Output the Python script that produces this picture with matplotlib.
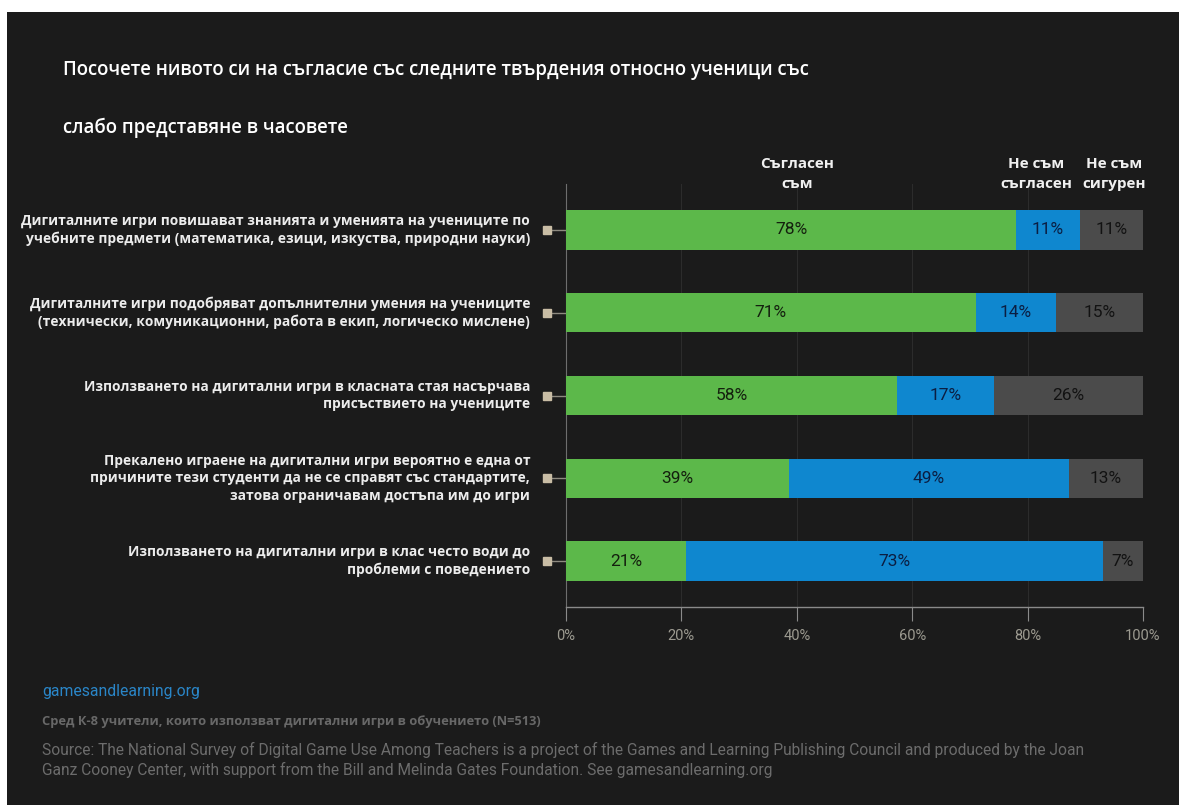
"""Stacked horizontal bars: teacher agreement with statements (Bulgarian)."""
import matplotlib
matplotlib.use("Agg")
import matplotlib.pyplot as plt
from matplotlib.patches import Rectangle
import numpy as np

# ---------------------------------------------------------------------------
# Data
# ---------------------------------------------------------------------------
statements = [
    "Дигиталните игри повишават знанията и уменията на учениците по\n"
    "учебните предмети (математика, езици, изкуства, природни науки)",
    "Дигиталните игри подобряват допълнителни умения на учениците\n"
    "(технически, комуникационни, работа в екип, логическо мислене)",
    "Използването на дигитални игри в класната стая насърчава\n"
    "присъствието на учениците",
    "Прекалено играене на дигитални игри вероятно е една от\n"
    "причините тези студенти да не се справят със стандартите,\n"
    "затова ограничавам достъпа им до игри",
    "Използването на дигитални игри в клас често води до\n"
    "проблеми с поведението",
]
series_names = ["Съгласен\nсъм", "Не съм\nсъгласен", "Не съм\nсигурен"]
agree = [78, 71, 58, 39, 21]
disagree = [11, 14, 17, 49, 73]
unsure = [11, 15, 26, 13, 7]
xticks = [0, 20, 40, 60, 80, 100]
xticklabels = ["0%", "20%", "40%", "60%", "80%", "100%"]

title = ("Посочете нивото си на съгласие със следните твърдения относно ученици със\n\n"
         "слабо представяне в часовете")
site = "gamesandlearning.org"
note = "Сред К-8 учители, които използват дигитални игри в обучението (N=513)"
source = ("Source: The National Survey of Digital Game Use Among Teachers is a project of "
          "the Games and Learning Publishing Council and produced by the Joan\n"
          "Ganz Cooney Center, with support from the Bill and Melinda Gates Foundation. "
          "See gamesandlearning.org")

# ---------------------------------------------------------------------------
# Style
# ---------------------------------------------------------------------------
BG = "#1b1b1b"
COLORS = ["#5cb84a", "#0f87cf", "#4b4b4b"]
TEXT_IN = ["#14200e", "#0b1e42", "#121212"]
HEADER_X = [40, 81.5, 95]
NUM_FONT = ["Roboto", "DejaVu Sans"]

plt.rcParams["font.family"] = ["Open Sans", "DejaVu Sans"]

W, H = 1179, 805
fig = plt.figure(figsize=(W / 100, H / 100), dpi=100)
fig.patch.set_facecolor("white")
fig.add_artist(Rectangle((7 / W, 0), 1 - 7 / W, 1 - 12 / H,
                         transform=fig.transFigure, facecolor=BG,
                         edgecolor="none", zorder=-10))

ax = fig.add_axes([566 / W, 1 - 607 / H, (1143 - 566) / W, (607 - 184) / H])
ax.set_facecolor("none")

vals = np.array([agree, disagree, unsure], dtype=float)
shares = vals / vals.sum(axis=0) * 100
y = np.arange(len(statements))
left = np.zeros(len(statements))
for k in range(3):
    ax.barh(y, shares[k], left=left, height=0.48, color=COLORS[k], zorder=3)
    for i in range(len(statements)):
        ax.text(left[i] + shares[k][i] / 2, y[i], f"{int(vals[k][i])}%",
                ha="center", va="center", fontsize=12.5, color=TEXT_IN[k],
                family=NUM_FONT, zorder=4)
    left += shares[k]

for k, name in enumerate(series_names):
    ax.text(HEADER_X[k], -0.47, name, ha="center", va="bottom",
            fontsize=11, fontweight="bold", color="#f0f0f0",
            linespacing=1.55)

ax.set_xlim(0, 100)
ax.set_ylim(len(statements) - 0.45, -0.55)
ax.set_yticks([])
ax.set_xticks(xticks)
ax.set_xticklabels(xticklabels, family=NUM_FONT, fontsize=10.5, color="#9c9a90")
ax.tick_params(axis="x", length=10, width=0.8, color="#8a8a8a", pad=6)
for xv in xticks[1:-1]:
    ax.axvline(xv, color="#2c2c2c", lw=0.8, zorder=1)
for s in ("top", "right"):
    ax.spines[s].set_visible(False)
ax.spines["left"].set_color("#6e6e6e")
ax.spines["bottom"].set_color("#8a8a8a")
ax.spines["bottom"].set_linewidth(1.0)

# statement labels with small square connector
for i, lbl in enumerate(statements):
    ax.plot([-3.3, 0], [y[i], y[i]], color="#8e8a80", lw=1, clip_on=False, zorder=2)
    ax.plot([-3.3], [y[i]], marker="s", ms=5.5, color="#c9bda5", clip_on=False,
            zorder=3)
    ax.text(-6.2, y[i], lbl, ha="right", va="center", fontsize=9.9,
            fontweight="bold", color="#ececec", multialignment="right",
            linespacing=1.3)

fig.text(63 / W, 1 - 60 / H, title, ha="left", va="top", fontsize=13.4,
         fontweight="semibold", color="white", linespacing=1.6)
fig.text(42 / W, 1 - 691 / H, site, ha="left", va="center", fontsize=11.3,
         color="#2a86c8", family=NUM_FONT)
fig.text(42 / W, 1 - 721 / H, note, ha="left", va="center", fontsize=9.3,
         fontweight="bold", color="#686868")
fig.text(42 / W, 1 - 760 / H, source, ha="left", va="center", fontsize=11.2,
         color="#6c6c6c", family=NUM_FONT, linespacing=1.35)

fig.savefig("out.png", dpi=100, facecolor=fig.get_facecolor())
